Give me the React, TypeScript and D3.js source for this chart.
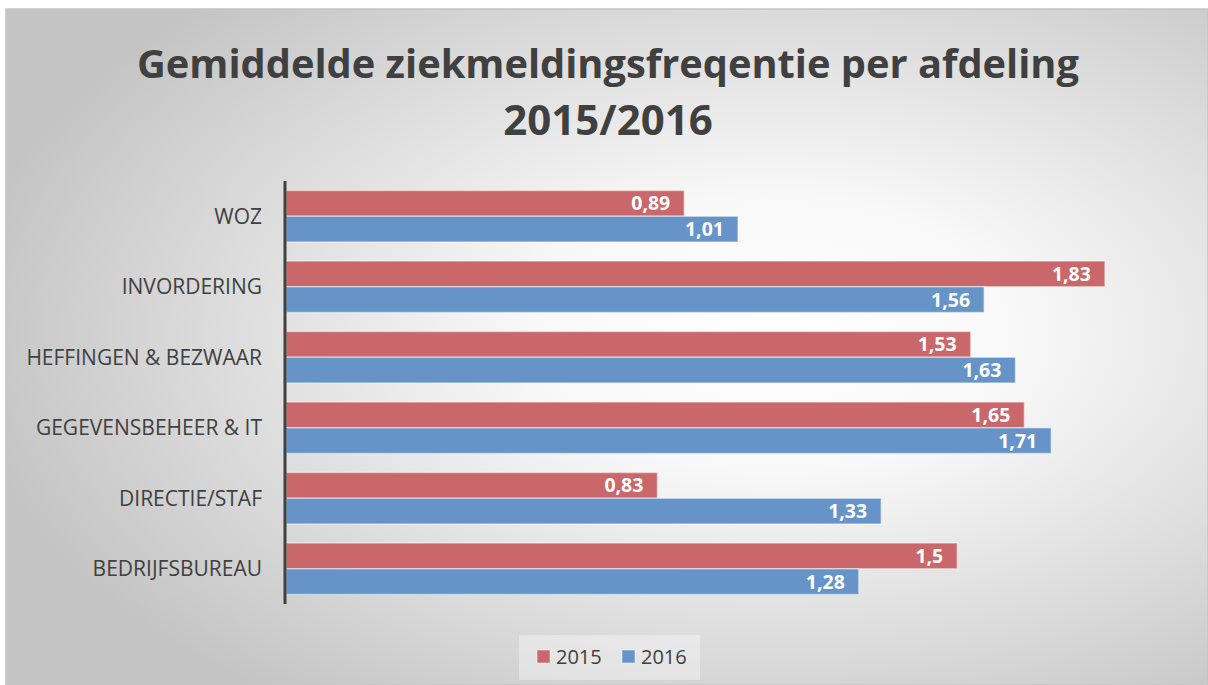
import React from "react";
import * as d3 from "d3";

const W = 1208;
const H = 685;

// afdelingen, van boven naar beneden
const categories = [
  "WOZ",
  "INVORDERING",
  "HEFFINGEN & BEZWAAR",
  "GEGEVENSBEHEER & IT",
  "DIRECTIE/STAF",
  "BEDRIJFSBUREAU",
];
const values2015 = [0.89, 1.83, 1.53, 1.65, 0.83, 1.5];
const values2016 = [1.01, 1.56, 1.63, 1.71, 1.33, 1.28];
const seriesNames = ["2015", "2016"];
const seriesColors = ["#c9676a", "#6694c9"];

const FONT = "Open Sans, Lato, sans-serif";
const fmt = (v: number) => String(v).replace(".", ",");

const App = () => {
  const left = 286;
  const top = 181;
  const bottom = 604;

  const x = d3.scaleLinear().domain([0, 2]).range([left, left + 895]);
  const y = d3.scaleBand().domain(categories).range([top, bottom]).paddingInner(0.27).paddingOuter(0.135);
  const inner = d3.scaleBand().domain(seriesNames).range([0, y.bandwidth()]);

  const series = [values2015, values2016];

  return (
    <div style={{ position: "fixed", left: 0, top: 0 }}>
      <svg width={W} height={H} style={{ display: "block" }}>
        <defs>
          <radialGradient id="bg" cx="0.64" cy="0.48" r="0.68" fx="0.64" fy="0.48">
            <stop offset="0" stopColor="#ffffff" />
            <stop offset="0.3" stopColor="#f8f8f8" />
            <stop offset="1" stopColor="#c4c4c4" />
          </radialGradient>
        </defs>
        <rect x={0} y={0} width={W} height={H} fill="#fff" />
        <rect x={6} y={9} width={W - 6} height={H - 9} fill="url(#bg)" stroke="#c4c4c4" strokeWidth={1.5} />

        <g fill="#404040" fontFamily={FONT} fontWeight="bold" fontSize={40} textAnchor="middle">
          <text x={608} y={78} textLength={942} lengthAdjust="spacingAndGlyphs">
            Gemiddelde ziekmeldingsfreqentie per afdeling
          </text>
          <text x={608} y={135} fontSize={42}>2015/2016</text>
        </g>

        {series.map((vals, si) => (
          <g key={seriesNames[si]}>
            {vals.map((v, i) => {
              const by = (y(categories[i]) ?? 0) + (inner(seriesNames[si]) ?? 0);
              const bh = inner.bandwidth();
              return (
                <g key={categories[i]}>
                  <rect
                    x={x(0)}
                    y={by}
                    width={x(v) - x(0)}
                    height={bh}
                    fill={seriesColors[si]}
                    stroke="#ffffff"
                    strokeOpacity={0.45}
                    strokeWidth={1.5}
                  />
                  <text
                    x={x(v) - 14}
                    y={by + bh / 2}
                    dy="0.36em"
                    textAnchor="end"
                    fill="#fff"
                    fontFamily={FONT}
                    fontWeight="bold"
                    fontSize={19.5}
                  >
                    {fmt(v)}
                  </text>
                </g>
              );
            })}
          </g>
        ))}

        <g fill="#404040" fontFamily={FONT} fontSize={21} textAnchor="end">
          {categories.map((c) => (
            <text key={c} x={262} y={(y(c) ?? 0) + y.bandwidth() / 2} dy="0.36em">
              {c}
            </text>
          ))}
        </g>

        <line x1={left - 1} x2={left - 1} y1={top} y2={bottom} stroke="#404040" strokeWidth={3} />

        <g>
          <rect x={519} y={635} width={181} height={45} fill="#ffffff" fillOpacity={0.35} />
          {seriesNames.map((s, i) => {
            const lx = 537 + i * 85;
            return (
              <g key={s}>
                <rect x={lx} y={650} width={13} height={13} fill={seriesColors[i]} stroke="#fff" strokeOpacity={0.5} />
                <text x={lx + 19} y={657} dy="0.36em" fill="#404040" fontFamily={FONT} fontSize={20}>
                  {s}
                </text>
              </g>
            );
          })}
        </g>
      </svg>
    </div>
  );
};

export default App;
